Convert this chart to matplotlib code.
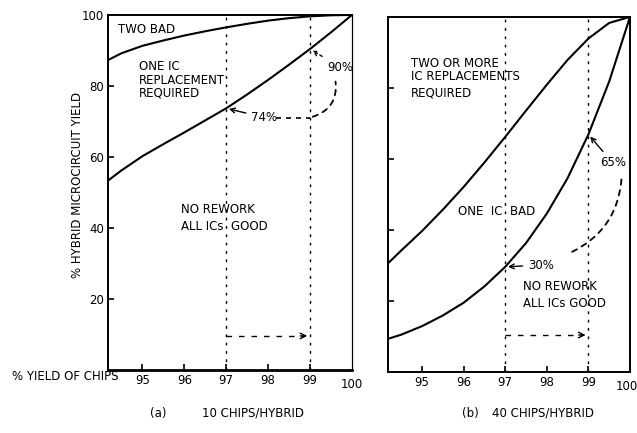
import matplotlib
matplotlib.use("Agg")
import matplotlib.pyplot as plt

# chip yield (%) where the curves were read
chip_yield = [94.2, 94.5, 95, 95.5, 96, 96.5, 97, 97.5, 98, 98.5, 99, 99.5, 100]

# (a) 10 chips/hybrid
a_no_rework = [53.5, 56.2, 60.2, 63.6, 66.9, 70.3, 73.7, 77.6, 81.7, 86.0, 90.4, 95.1, 100]
a_one_bad = [87.4, 89.2, 91.3, 92.8, 94.2, 95.4, 96.5, 97.5, 98.4, 99.1, 99.6, 99.9, 100]

# (b) 40 chips/hybrid
b_no_rework = [9.4, 10.5, 12.9, 15.9, 19.5, 24.1, 29.6, 36.3, 44.6, 54.6, 66.9, 81.8, 100]
b_one_bad = [30.8, 34.2, 39.7, 45.7, 52.1, 59.0, 66.2, 73.6, 80.9, 87.9, 93.9, 98.3, 100]

x_ticks = [95, 96, 97, 98, 99]
x_labels = ["95", "96", "97", "98", "99"]
y_ticks = [20, 40, 60, 80, 100]

FS = 8.5
plt.rcParams['font.family'] = ['DejaVu Sans']

fig = plt.figure(figsize=(6.37, 4.33), dpi=100)
ax1 = fig.add_axes([0.1695, 0.1455, 0.383, 0.82])
ax2 = fig.add_axes([0.609, 0.141, 0.38, 0.82])

for ax in (ax1, ax2):
    ax.set_xlim(94.18, 100)
    ax.set_ylim(0, 100)
    ax.set_xticks(x_ticks)
    ax.set_xticklabels(x_labels, fontsize=FS)
    ax.tick_params(direction='in', length=4, width=1.2, labelsize=FS, pad=3)
    for s in ax.spines.values():
        s.set_linewidth(1.4)
    # reading guides at 97 % and 99 %
    for xv in (97, 99):
        ax.plot([xv, xv], [0, 100], color='black', lw=1.0, ls=(0, (2, 4)))


def label(ax, x, y, s):
    ax.text(x, y, s, fontsize=FS, va='center')


def dashed_arrow(ax, x0, x1, y):
    ax.plot([x0, x1 - 0.15], [y, y], color='black', lw=1.0, ls=(0, (4, 5)))
    ax.annotate("", xy=(x1, y), xytext=(x1 - 0.3, y),
                arrowprops=dict(arrowstyle='->', lw=1.0, color='black'))


# ---- panel (a) ----
ax1.plot(chip_yield, a_no_rework, color='black', lw=1.5)
ax1.plot(chip_yield, a_one_bad, color='black', lw=1.5)
ax1.spines['bottom'].set_linewidth(2)
ax1.spines['right'].set_linewidth(0.9)
ax1.set_yticks(y_ticks)
ax1.set_yticklabels([str(v) for v in y_ticks], fontsize=FS)
ax1.text(100, -2.2, "100", ha='center', va='top', fontsize=FS)

label(ax1, 94.43, 96.0, "TWO BAD")
label(ax1, 94.92, 85.6, "ONE IC")
label(ax1, 94.92, 81.6, "REPLACEMENT")
label(ax1, 94.92, 77.9, "REQUIRED")
label(ax1, 95.93, 45.3, "NO REWORK")
label(ax1, 95.93, 40.5, "ALL ICs  GOOD")

ax1.annotate("74%", xy=(97, 73.7), xytext=(97.6, 71.1), fontsize=FS,
             va='center', arrowprops=dict(arrowstyle='->', lw=1.0, color='black'))
ax1.plot([98.2, 99], [71.1, 71.1], color='black', lw=1.2, ls=(0, (3, 3)))
ax1.annotate("", xy=(99.6, 82), xytext=(99, 71.1),
             arrowprops=dict(arrowstyle='-', lw=1.3, ls=(0, (3, 3)),
                             connectionstyle="arc3,rad=0.45", color='black'))
ax1.annotate("90%", xy=(99, 90.4), xytext=(99.4, 85.3), fontsize=FS,
             va='center', arrowprops=dict(arrowstyle='->', lw=1.0, color='black',
                                          ls=(0, (2, 2))))
dashed_arrow(ax1, 97, 99, 9.6)

ax1.set_ylabel("% HYBRID MICROCIRCUIT YIELD", fontsize=FS)
ax1.yaxis.set_label_coords(-0.1, 0.52)
fig.text(12 / 637, 1 - 377 / 433, "% YIELD OF CHIPS", fontsize=FS, va='center')

# ---- panel (b) ----
ax2.plot(chip_yield, b_no_rework, color='black', lw=1.5)
ax2.plot(chip_yield, b_one_bad, color='black', lw=1.5)
ax2.set_yticks(y_ticks[:-1])
ax2.set_yticklabels([])
ax2.text(100.2, -2.2, "100", ha='right', va='top', fontsize=FS)

label(ax2, 94.74, 87.0, "TWO OR MORE")
label(ax2, 94.74, 83.1, "IC REPLACEMENTS")
label(ax2, 94.74, 78.6, "REQUIRED")
label(ax2, 95.87, 45.1, "ONE  IC  BAD")
label(ax2, 97.42, 24.2, "NO REWORK")
label(ax2, 97.42, 19.4, "ALL ICs GOOD")

ax2.annotate("65%", xy=(99, 66.9), xytext=(99.27, 58.9), fontsize=FS,
             va='center', arrowprops=dict(arrowstyle='->', lw=1.0, color='black'))
ax2.annotate("", xy=(98.55, 33.5), xytext=(99.8, 55),
             arrowprops=dict(arrowstyle='-', lw=1.3, ls=(0, (3, 3)),
                             connectionstyle="arc3,rad=-0.3", color='black'))
ax2.annotate("30%", xy=(97, 29.6), xytext=(97.55, 30.1), fontsize=FS,
             va='center', arrowprops=dict(arrowstyle='->', lw=1.0, color='black'))
dashed_arrow(ax2, 97, 99, 10.4)

# captions
cap_y = 1 - 413 / 433
fig.text(150 / 637, cap_y, "(a)", fontsize=FS, va='center')
fig.text(202 / 637, cap_y, "10 CHIPS/HYBRID", fontsize=FS, va='center')
fig.text(462 / 637, cap_y, "(b)", fontsize=FS, va='center')
fig.text(492 / 637, cap_y, "40 CHIPS/HYBRID", fontsize=FS, va='center')

fig.savefig("out.png", dpi=100)
